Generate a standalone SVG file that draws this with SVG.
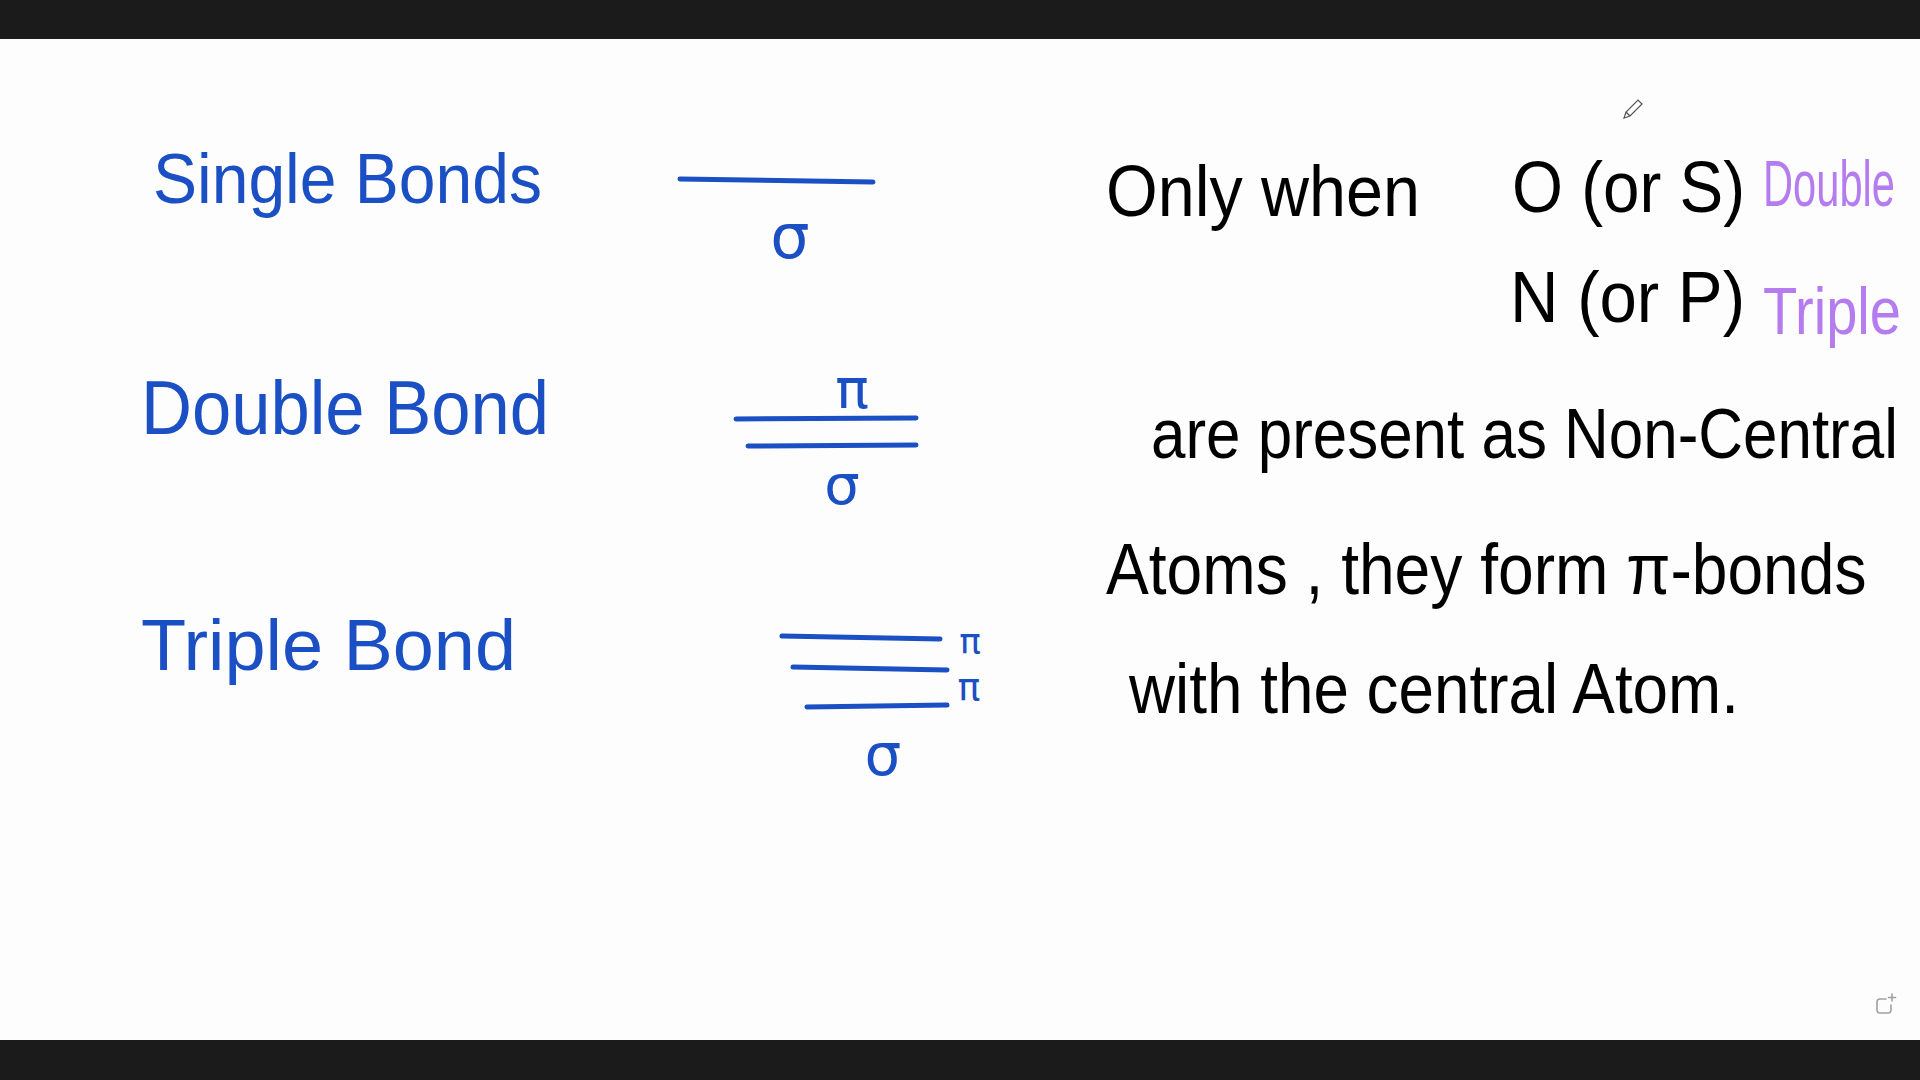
<svg xmlns="http://www.w3.org/2000/svg" width="1920" height="1080" viewBox="0 0 1920 1080">
<style>
.b{font-family:"Liberation Sans","DejaVu Sans",sans-serif;fill:#1b4fc4}
.k{font-family:"Liberation Sans","DejaVu Sans",sans-serif;fill:#000}
.p{font-family:"Liberation Sans","DejaVu Sans",sans-serif;fill:#b47cef}
.g{font-family:"DejaVu Sans",sans-serif;fill:#1b4fc4;text-anchor:middle}
.ln{stroke:#1b4fc4;stroke-width:5;stroke-linecap:round;fill:none}
</style>
<rect x="0" y="0" width="1920" height="1080" fill="#fdfdfd"/>
<rect x="0" y="0" width="1920" height="39" fill="#1b1b1b"/>
<rect x="0" y="1040" width="1920" height="40" fill="#1b1b1b"/>

<g id="single-bond">
<text class="b" x="153" y="203" font-size="70" textLength="389" lengthAdjust="spacingAndGlyphs">Single Bonds</text>
<line class="ln" x1="680" y1="179" x2="873" y2="182"/>
<text class="g" x="790" y="258" font-size="62">σ</text>
</g>

<g id="double-bond">
<text class="b" x="141" y="434" font-size="76" textLength="408" lengthAdjust="spacingAndGlyphs">Double Bond</text>
<text class="g" x="852" y="408" font-size="56">π</text>
<line class="ln" x1="736" y1="419" x2="916" y2="418"/>
<line class="ln" x1="748" y1="446" x2="916" y2="445"/>
<text class="g" x="842" y="504" font-size="56">σ</text>
</g>

<g id="triple-bond">
<text class="b" x="141" y="670" font-size="72" textLength="375" lengthAdjust="spacingAndGlyphs">Triple Bond</text>
<line class="ln" x1="782" y1="636" x2="940" y2="639"/>
<line class="ln" x1="793" y1="667" x2="947" y2="670"/>
<line class="ln" x1="807" y1="707" x2="947" y2="705"/>
<text class="g" x="970" y="654" font-size="36">π</text>
<text class="g" x="969" y="700" font-size="38">π</text>
<text class="g" x="883" y="775" font-size="58">σ</text>
</g>

<g id="statement">
<text class="k" x="1106" y="216" font-size="72" textLength="314" lengthAdjust="spacingAndGlyphs">Only when</text>
<text class="k" x="1512" y="212" font-size="72" textLength="233" lengthAdjust="spacingAndGlyphs">O (or S)</text>
<text class="p" transform="translate(1763 206) scale(0.65 1)" font-size="64" textLength="203" lengthAdjust="spacingAndGlyphs">Double</text>
<text class="k" x="1510" y="322" font-size="72" textLength="235" lengthAdjust="spacingAndGlyphs">N (or P)</text>
<text class="p" transform="translate(1763 334) scale(0.836 1)" font-size="66" textLength="165" lengthAdjust="spacingAndGlyphs">Triple</text>
<text class="k" transform="translate(1151 458) scale(0.885 1)" font-size="70" textLength="844" lengthAdjust="spacingAndGlyphs">are present as Non-Central</text>
<text class="k" transform="translate(1106 594) scale(0.9 1)" font-size="72" textLength="845" lengthAdjust="spacingAndGlyphs">Atoms , they form π-bonds</text>
<text class="k" x="1129" y="713" font-size="70" textLength="610" lengthAdjust="spacingAndGlyphs">with the central Atom.</text>
</g>

<g id="pencil-cursor" fill="none" stroke="#555" stroke-width="1.2">
<path d="M1624 118 L1626 112 L1638 100 L1642 104 L1630 116 Z"/>
<line x1="1626" y1="112" x2="1630" y2="116"/>
</g>

<g id="corner-icon" fill="none" stroke="#a0a0a6" stroke-width="1.6" stroke-linecap="round">
<path d="M1886 999 H1880 Q1877 999 1877 1002 V1010 Q1877 1013 1880 1013 H1888 Q1891 1013 1891 1010 V1005"/>
<line x1="1892" y1="994" x2="1892" y2="1001"/>
<line x1="1888.5" y1="997.5" x2="1895.5" y2="997.5"/>
</g>
</svg>
